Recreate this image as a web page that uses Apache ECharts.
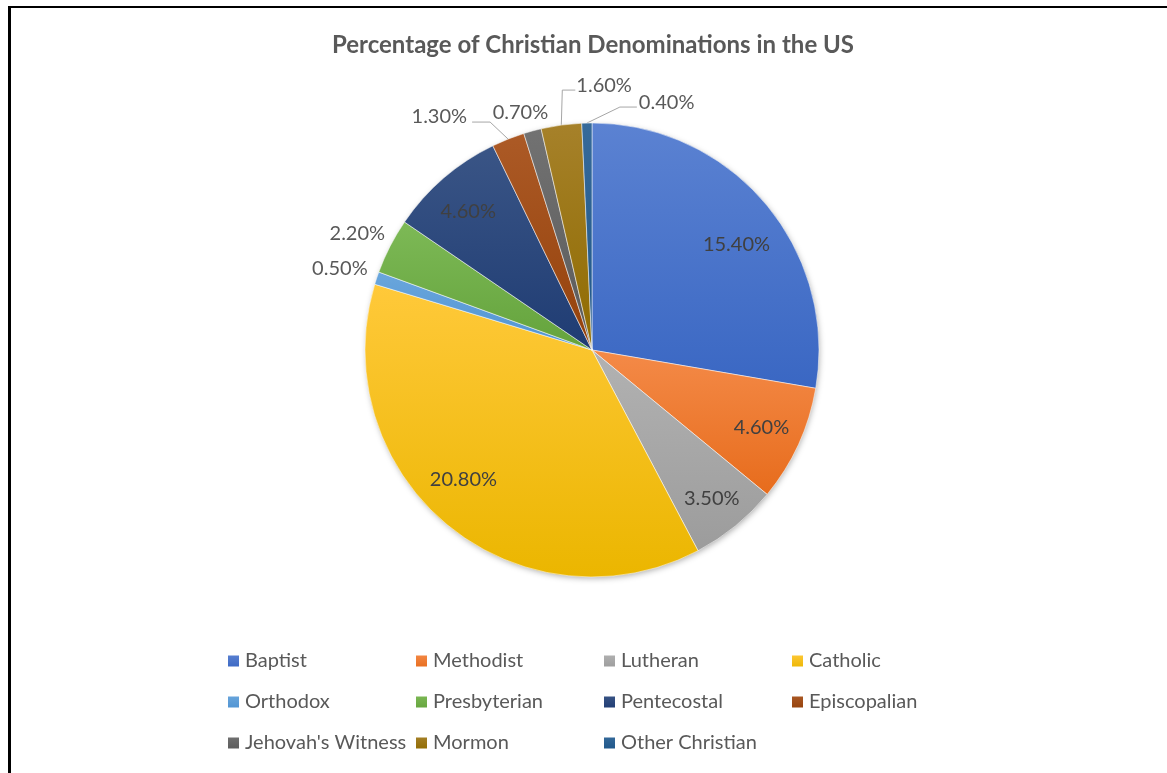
<!DOCTYPE html>
<html>
<head>
<meta charset="utf-8">
<script src="https://cdn.jsdelivr.net/npm/echarts@6/dist/echarts.min.js"></script>
<style>
  html, body { margin: 0; padding: 0; background: #fff; }
  #frame { position: absolute; left: 8px; top: 6px; width: 1159px; height: 767px; border-top: 2px solid #000; border-left: 3px solid #000; box-sizing: border-box; }
  #chart { position: absolute; left: 0; top: 0; width: 1167px; height: 773px; }
</style>
</head>
<body>
<div id="chart"></div>
<div id="frame"></div>
<script>
const titleText = 'Percentage of Christian Denominations in the US';
const categories = ['Baptist', 'Methodist', 'Lutheran', 'Catholic', 'Orthodox', 'Presbyterian', 'Pentecostal', 'Episcopalian', "Jehovah's Witness", 'Mormon', 'Other Christian'];
const values = [15.4, 4.6, 3.5, 20.8, 0.5, 2.2, 4.6, 1.3, 0.7, 1.6, 0.4];
const colorsTop = ['#5B82D2', '#F48A48', '#B2B2B2', '#FFC93A', '#6AA6DC', '#7DB956', '#3A5586', '#AC5A26', '#727272', '#A6812A', '#366A9A'];
const colorsBottom = ['#3A67C3', '#E76C1C', '#9C9C9C', '#EBB600', '#4F93D2', '#64A33C', '#1F3C73', '#94410B', '#5A5A5A', '#8F6B00', '#1E5689'];

const insideIdx = [0, 1, 2, 3, 6];
const lineIdx = [7, 9, 10];
const CX = 592, CY = 350, R = 227;

// Extra nudge of inside labels (Excel best-fit look)
const insideNudge = { 0: [2, 15], 3: [-10, -14], 6: [-2, 3], 2: [2, 4] };

// Outside label placement: offset from the slice's outer edge midpoint
const outsideLayout = {
  4:  { dx: -9,  dy: -10, align: 'right' },
  5:  { dx: -5,  dy: -13, align: 'right' },
  7:  { dx: -41, dy: -23, align: 'right', line: [[-18, -17], [-36, -17]] },
  8:  { dx: -12, dy: -18, align: 'center' },
  9:  { dx: 15,  dy: -40, align: 'left', line: [[1, -35], [14, -35]] },
  10: { dx: 52,  dy: -21, align: 'left', line: [[33, -16], [50, -16]] }
};

const total = values.reduce((a, b) => a + b, 0);
function edgePoint(i) {
  let before = 0;
  for (let k = 0; k < i; k++) before += values[k];
  const mid = (before + values[i] / 2) / total * Math.PI * 2;
  return [CX + R * Math.sin(mid), CY - R * Math.cos(mid)];
}

const data = categories.map((name, i) => {
  const inside = insideIdx.includes(i);
  return {
    name: name,
    value: values[i],
    itemStyle: {
      color: new echarts.graphic.LinearGradient(0, 0, 0, 1, [
        { offset: 0, color: colorsTop[i] },
        { offset: 1, color: colorsBottom[i] }
      ])
    },
    label: inside ? { position: 'inside', color: '#404040' } : { position: 'outside', color: '#595959' },
    labelLine: { show: lineIdx.includes(i) }
  };
});

const chart = echarts.init(document.getElementById('chart'), null, { renderer: 'canvas' });
chart.setOption({
  animation: false,
  backgroundColor: '#ffffff',
  color: colorsBottom,
  title: {
    text: titleText,
    left: CX - 4,
    textAlign: 'center',
    top: 28,
    textStyle: { fontFamily: 'Lato', fontSize: 24, fontWeight: 'bold', color: '#595959' }
  },
  legend: {
    left: 226,
    top: 644,
    width: 750,
    padding: 0,
    itemWidth: 13,
    itemHeight: 13,
    itemGap: 7,
    icon: 'rect',
    data: categories,
    textStyle: { fontFamily: 'Lato', fontSize: 20, color: '#595959', width: 162, lineHeight: 34 }
  },
  graphic: [{
    type: 'circle',
    z: 0,
    silent: true,
    shape: { cx: CX, cy: CY, r: R - 1 },
    style: { fill: '#ffffff', shadowBlur: 6, shadowOffsetX: 1, shadowOffsetY: 2, shadowColor: 'rgba(0,0,0,0.35)' }
  }],
  series: [{
    type: 'pie',
    z: 2,
    center: [CX, CY],
    radius: R,
    startAngle: 90,
    clockwise: true,
    avoidLabelOverlap: false,
    itemStyle: { borderColor: '#ffffff', borderWidth: 0.5 },
    label: {
      fontFamily: 'Lato',
      fontSize: 20,
      formatter: p => p.value.toFixed(2) + '%'
    },
    labelLine: { length: 12, length2: 14, lineStyle: { color: '#a6a6a6', width: 1 } },
    labelLayout: function (p) {
      const i = p.dataIndex;
      if (insideIdx.includes(i)) {
        const lx = p.labelRect.x + p.labelRect.width / 2;
        const ly = p.labelRect.y + p.labelRect.height / 2;
        const n = insideNudge[i] || [0, 0];
        return { dx: (lx - CX) * 0.6 + n[0], dy: (ly - CY) * 0.6 + n[1] };
      }
      const cfg = outsideLayout[i];
      if (!cfg) return {};
      const e = edgePoint(i);
      const out = {
        x: e[0] + cfg.dx,
        y: e[1] + cfg.dy,
        align: cfg.align,
        verticalAlign: 'middle'
      };
      if (cfg.line) {
        out.labelLinePoints = [e].concat(cfg.line.map(d => [e[0] + d[0], e[1] + d[1]]));
      }
      return out;
    },
    data: data
  }]
});
</script>
</body>
</html>
